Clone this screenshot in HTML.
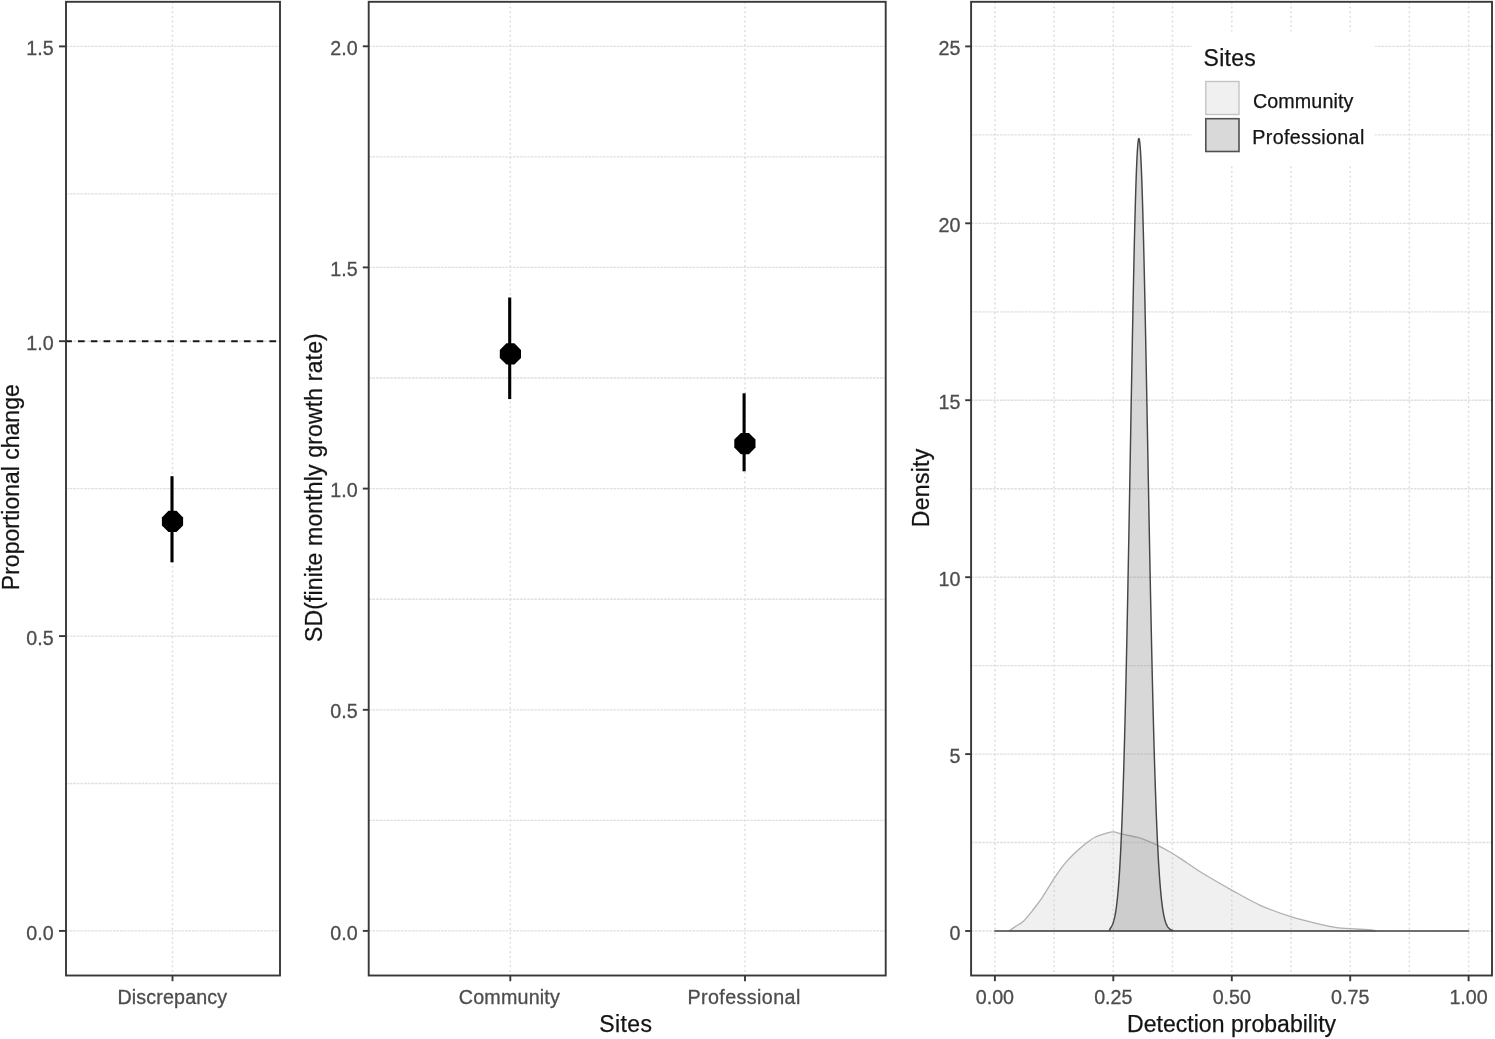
<!DOCTYPE html>
<html lang="en"><head><meta charset="utf-8"><title>Figure</title>
<style>
html,body{margin:0;padding:0;background:#fff;}
body{width:1495px;height:1039px;overflow:hidden;}
svg{display:block;font-family:"Liberation Sans",sans-serif;}
.gh{stroke:#e0e0e0;stroke-width:1.35;stroke-dasharray:2.7 0.9;}
.gv{stroke:#dedede;stroke-width:1.5;stroke-dasharray:2 2.7;}
.ax text{fill:#4d4d4d;stroke:#4d4d4d;stroke-width:0.3;}
.tt text{fill:#141414;stroke:#141414;stroke-width:0.25;}
</style></head>
<body>
<svg width="1495" height="1039" viewBox="0 0 1495 1039">
<rect width="1495" height="1039" fill="#fff"/>
<g fill="none">
<line class="gh" x1="66.0" x2="280.0" y1="930.9" y2="930.9"/>
<line class="gh" x1="66.0" x2="280.0" y1="783.5" y2="783.5"/>
<line class="gh" x1="66.0" x2="280.0" y1="636.1" y2="636.1"/>
<line class="gh" x1="66.0" x2="280.0" y1="488.6" y2="488.6"/>
<line class="gh" x1="66.0" x2="280.0" y1="341.2" y2="341.2"/>
<line class="gh" x1="66.0" x2="280.0" y1="193.8" y2="193.8"/>
<line class="gh" x1="66.0" x2="280.0" y1="46.4" y2="46.4"/>
<line class="gv" x1="172.5" x2="172.5" y1="1.8" y2="975.5"/>
<line class="gh" x1="368.7" x2="885.7" y1="930.9" y2="930.9"/>
<line class="gh" x1="368.7" x2="885.7" y1="820.3" y2="820.3"/>
<line class="gh" x1="368.7" x2="885.7" y1="709.8" y2="709.8"/>
<line class="gh" x1="368.7" x2="885.7" y1="599.2" y2="599.2"/>
<line class="gh" x1="368.7" x2="885.7" y1="488.6" y2="488.6"/>
<line class="gh" x1="368.7" x2="885.7" y1="378.0" y2="378.0"/>
<line class="gh" x1="368.7" x2="885.7" y1="267.4" y2="267.4"/>
<line class="gh" x1="368.7" x2="885.7" y1="156.9" y2="156.9"/>
<line class="gh" x1="368.7" x2="885.7" y1="46.3" y2="46.3"/>
<line class="gv" x1="510.3" x2="510.3" y1="1.8" y2="975.5"/>
<line class="gv" x1="745.0" x2="745.0" y1="1.8" y2="975.5"/>
<line class="gh" x1="971.1" x2="1492.0" y1="931.0" y2="931.0"/>
<line class="gh" x1="971.1" x2="1492.0" y1="842.5" y2="842.5"/>
<line class="gh" x1="971.1" x2="1492.0" y1="754.1" y2="754.1"/>
<line class="gh" x1="971.1" x2="1492.0" y1="665.6" y2="665.6"/>
<line class="gh" x1="971.1" x2="1492.0" y1="577.2" y2="577.2"/>
<line class="gh" x1="971.1" x2="1492.0" y1="488.7" y2="488.7"/>
<line class="gh" x1="971.1" x2="1492.0" y1="400.2" y2="400.2"/>
<line class="gh" x1="971.1" x2="1492.0" y1="311.8" y2="311.8"/>
<line class="gh" x1="971.1" x2="1492.0" y1="223.3" y2="223.3"/>
<line class="gh" x1="971.1" x2="1492.0" y1="134.9" y2="134.9"/>
<line class="gh" x1="971.1" x2="1492.0" y1="46.4" y2="46.4"/>
<line class="gv" x1="994.9" x2="994.9" y1="1.8" y2="975.5"/>
<line class="gv" x1="1054.1" x2="1054.1" y1="1.8" y2="975.5"/>
<line class="gv" x1="1113.3" x2="1113.3" y1="1.8" y2="975.5"/>
<line class="gv" x1="1172.5" x2="1172.5" y1="1.8" y2="975.5"/>
<line class="gv" x1="1231.8" x2="1231.8" y1="1.8" y2="975.5"/>
<line class="gv" x1="1291.0" x2="1291.0" y1="1.8" y2="975.5"/>
<line class="gv" x1="1350.2" x2="1350.2" y1="1.8" y2="975.5"/>
<line class="gv" x1="1409.4" x2="1409.4" y1="1.8" y2="975.5"/>
<line class="gv" x1="1468.6" x2="1468.6" y1="1.8" y2="975.5"/>
</g>
<line x1="65.3" x2="280.0" y1="341.3" y2="341.3" stroke="#1a1a1a" stroke-width="2.1" stroke-dasharray="6.6 6.16"/>
<line x1="172.0" x2="172.0" y1="476.2" y2="562.3" stroke="#000" stroke-width="3.1"/>
<polygon fill="#000" points="168.5,510.8 176.5,510.8 183.1,517.4 183.1,525.4 176.5,532.0 168.5,532.0 161.9,525.4 161.9,517.4"/>
<line x1="509.7" x2="509.7" y1="297.5" y2="399.1" stroke="#000" stroke-width="3.1"/>
<polygon fill="#000" points="506.4,343.3 514.4,343.3 521.0,349.9 521.0,357.9 514.4,364.5 506.4,364.5 499.8,357.9 499.8,349.9"/>
<line x1="744.1" x2="744.1" y1="393.3" y2="471.3" stroke="#000" stroke-width="3.1"/>
<polygon fill="#000" points="740.9,433.0 748.9,433.0 755.5,439.6 755.5,447.6 748.9,454.2 740.9,454.2 734.3,447.6 734.3,439.6"/>
<path d="M1009.0,930.9 C1010.0,930.2 1012.8,928.2 1015.3,926.6 C1017.8,925.0 1020.9,923.6 1023.7,921.0 C1026.5,918.4 1029.0,915.0 1032.1,911.1 C1035.1,907.2 1038.4,903.2 1042.0,897.8 C1045.6,892.4 1050.2,884.4 1053.9,878.8 C1057.6,873.2 1061.0,868.3 1064.4,864.1 C1067.8,859.9 1070.8,856.9 1074.3,853.5 C1077.8,850.1 1082.0,846.5 1085.5,843.7 C1089.0,841.0 1092.1,838.7 1095.4,837.0 C1098.7,835.3 1102.2,834.5 1105.2,833.6 C1108.2,832.7 1110.8,831.7 1113.6,831.8 C1116.4,831.9 1118.0,833.3 1122.0,834.2 C1126.0,835.1 1133.5,836.4 1137.5,837.4 C1141.5,838.4 1142.6,838.9 1145.9,840.2 C1149.2,841.5 1152.8,842.9 1157.2,845.1 C1161.7,847.3 1167.7,850.6 1172.6,853.5 C1177.5,856.4 1181.6,859.4 1186.7,862.7 C1191.8,866.0 1195.3,868.9 1203.0,873.5 C1210.7,878.1 1223.0,885.3 1232.6,890.6 C1242.1,895.9 1250.5,900.9 1260.3,905.3 C1270.1,909.7 1281.6,913.7 1291.6,916.9 C1301.6,920.1 1312.7,922.5 1320.5,924.3 C1328.3,926.1 1333.5,927.2 1338.5,927.9 C1343.5,928.6 1344.9,928.3 1350.6,928.7 C1356.3,929.1 1368.5,929.7 1372.7,930.1 C1376.9,930.5 1375.5,930.8 1376.0,930.9 Z" fill="#cccccc" fill-opacity="0.3" stroke="#b0b0b0" stroke-width="1.3" stroke-linejoin="round"/>
<path d="M994.9,931 L1109.2,931 L1110.4,928.1 L1110.9,927.5 L1111.4,926.7 L1111.9,925.8 L1112.4,924.8 L1112.9,923.6 L1113.4,922.1 L1113.9,920.4 L1114.4,918.4 L1114.9,916.2 L1115.4,913.5 L1115.9,910.5 L1116.4,907.0 L1116.9,903.0 L1117.4,898.4 L1117.9,893.3 L1118.4,887.4 L1118.9,880.9 L1119.4,873.6 L1119.9,865.4 L1120.4,856.3 L1120.9,846.3 L1121.4,835.2 L1121.9,823.1 L1122.4,809.9 L1122.9,795.5 L1123.4,779.9 L1123.9,763.1 L1124.4,745.1 L1124.9,725.8 L1125.4,705.4 L1125.9,683.8 L1126.4,661.0 L1126.9,637.2 L1127.4,612.4 L1127.9,586.6 L1128.4,560.1 L1128.9,532.9 L1129.4,505.2 L1129.9,477.1 L1130.4,448.8 L1130.9,420.6 L1131.4,392.6 L1131.9,365.0 L1132.4,338.0 L1132.9,311.9 L1133.4,286.9 L1133.9,263.2 L1134.4,241.0 L1134.9,220.5 L1135.4,201.9 L1135.9,185.5 L1136.4,171.3 L1136.9,159.5 L1137.4,150.2 L1137.9,143.6 L1138.4,139.6 L1138.9,138.4 L1139.4,139.8 L1139.9,143.6 L1140.4,149.9 L1140.9,158.7 L1141.4,169.7 L1141.9,182.9 L1142.4,198.2 L1142.9,215.4 L1143.4,234.5 L1143.9,255.2 L1144.4,277.3 L1144.9,300.7 L1145.4,325.2 L1145.9,350.6 L1146.4,376.6 L1146.9,403.2 L1147.4,430.0 L1147.9,457.0 L1148.4,484.0 L1148.9,510.7 L1149.4,537.1 L1149.9,563.0 L1150.4,588.3 L1150.9,612.8 L1151.4,636.6 L1151.9,659.4 L1152.4,681.2 L1152.9,702.0 L1153.4,721.7 L1153.9,740.4 L1154.4,757.9 L1154.9,774.3 L1155.4,789.6 L1155.9,803.8 L1156.4,816.9 L1156.9,829.1 L1157.4,840.2 L1157.9,850.3 L1158.4,859.6 L1158.9,867.9 L1159.4,875.5 L1159.9,882.3 L1160.4,888.5 L1160.9,893.9 L1161.4,898.8 L1161.9,903.1 L1162.4,906.9 L1162.9,910.3 L1163.4,913.2 L1163.9,915.8 L1164.4,918.0 L1164.9,920.0 L1165.4,921.7 L1165.9,923.1 L1166.4,924.4 L1166.9,925.4 L1167.4,926.3 L1167.9,927.1 L1168.4,927.8 L1168.9,928.3 L1169.4,928.8 L1169.9,929.2 L1170.4,929.5 L1170.9,929.8 L1171.4,930.0 L1171.9,930.2 L1172.4,930.3 L1173.9,931 L1468.6,931 Z" fill="#7f7f7f" fill-opacity="0.3" stroke="#464646" stroke-width="1.45" stroke-linejoin="round"/>
<rect x="1191.8" y="31.6" width="183" height="132.2" fill="#fff"/>
<rect x="1205.8" y="81.5" width="33.2" height="33" fill="#f0f0f0" stroke="#c4c4c4" stroke-width="1.4"/>
<rect x="1205.8" y="118.7" width="33.2" height="32.8" fill="#d9d9d9" stroke="#505050" stroke-width="1.6"/>
<rect x="66.0" y="1.8" width="214.0" height="973.7" fill="none" stroke="#383838" stroke-width="1.9"/>
<rect x="368.7" y="1.8" width="517.0" height="973.7" fill="none" stroke="#383838" stroke-width="1.9"/>
<rect x="971.1" y="1.8" width="520.9" height="973.7" fill="none" stroke="#383838" stroke-width="1.9"/>
<g stroke="#383838" stroke-width="1.9">
<line x1="59.0" x2="66.0" y1="930.9" y2="930.9"/>
<line x1="59.0" x2="66.0" y1="636.1" y2="636.1"/>
<line x1="59.0" x2="66.0" y1="341.2" y2="341.2"/>
<line x1="59.0" x2="66.0" y1="46.4" y2="46.4"/>
<line x1="362.8" x2="368.7" y1="930.9" y2="930.9"/>
<line x1="362.8" x2="368.7" y1="709.8" y2="709.8"/>
<line x1="362.8" x2="368.7" y1="488.6" y2="488.6"/>
<line x1="362.8" x2="368.7" y1="267.4" y2="267.4"/>
<line x1="362.8" x2="368.7" y1="46.3" y2="46.3"/>
<line x1="965.2" x2="971.1" y1="931.0" y2="931.0"/>
<line x1="965.2" x2="971.1" y1="754.1" y2="754.1"/>
<line x1="965.2" x2="971.1" y1="577.2" y2="577.2"/>
<line x1="965.2" x2="971.1" y1="400.2" y2="400.2"/>
<line x1="965.2" x2="971.1" y1="223.3" y2="223.3"/>
<line x1="965.2" x2="971.1" y1="46.4" y2="46.4"/>
<line x1="172.5" x2="172.5" y1="975.5" y2="981.2"/>
<line x1="510.3" x2="510.3" y1="975.5" y2="981.2"/>
<line x1="745.0" x2="745.0" y1="975.5" y2="981.2"/>
<line x1="994.9" x2="994.9" y1="975.5" y2="981.2"/>
<line x1="1113.3" x2="1113.3" y1="975.5" y2="981.2"/>
<line x1="1231.8" x2="1231.8" y1="975.5" y2="981.2"/>
<line x1="1350.2" x2="1350.2" y1="975.5" y2="981.2"/>
<line x1="1468.6" x2="1468.6" y1="975.5" y2="981.2"/>
</g>
<g class="ax" font-size="19.7">
<text x="53.7" y="939.5" text-anchor="end">0.0</text>
<text x="53.7" y="644.7" text-anchor="end">0.5</text>
<text x="53.7" y="349.8" text-anchor="end">1.0</text>
<text x="53.7" y="55.0" text-anchor="end">1.5</text>
<text x="357.7" y="939.5" text-anchor="end">0.0</text>
<text x="357.7" y="718.4" text-anchor="end">0.5</text>
<text x="357.7" y="497.2" text-anchor="end">1.0</text>
<text x="357.7" y="276.0" text-anchor="end">1.5</text>
<text x="357.7" y="54.9" text-anchor="end">2.0</text>
<text x="960.5" y="939.6" text-anchor="end">0</text>
<text x="960.5" y="762.7" text-anchor="end">5</text>
<text x="960.5" y="585.8" text-anchor="end">10</text>
<text x="960.5" y="408.8" text-anchor="end">15</text>
<text x="960.5" y="231.9" text-anchor="end">20</text>
<text x="960.5" y="55.0" text-anchor="end">25</text>
<text x="172.4" y="1003.5" text-anchor="middle" letter-spacing="0.14">Discrepancy</text>
<text x="509.4" y="1003.5" text-anchor="middle" letter-spacing="0.19">Community</text>
<text x="744.1" y="1003.5" text-anchor="middle" letter-spacing="0.4">Professional</text>
<text x="994.9" y="1003.5" text-anchor="middle">0.00</text>
<text x="1113.3" y="1003.5" text-anchor="middle">0.25</text>
<text x="1231.8" y="1003.5" text-anchor="middle">0.50</text>
<text x="1350.2" y="1003.5" text-anchor="middle">0.75</text>
<text x="1468.6" y="1003.5" text-anchor="middle">1.00</text>
</g>
<g class="tt" font-size="19.7">
<text x="1252.9" y="107.7" letter-spacing="0.12">Community</text>
<text x="1252.3" y="143.9" letter-spacing="0.33">Professional</text>
</g>
<g class="tt" font-size="23.0">
<text x="625.8" y="1032.4" text-anchor="middle" letter-spacing="0.35">Sites</text>
<text x="1231.6" y="1032.2" text-anchor="middle" letter-spacing="0.03">Detection probability</text>
<text x="1203.5" y="66.2" letter-spacing="0.3">Sites</text>
<text transform="translate(18.5,487.2) rotate(-90)" text-anchor="middle">Proportional change</text>
<text transform="translate(322.3,487.6) rotate(-90)" text-anchor="middle" letter-spacing="0.16">SD(finite monthly growth rate)</text>
<text transform="translate(929.2,487.8) rotate(-90)" text-anchor="middle" letter-spacing="0.28">Density</text>
</g>
</svg>
</body></html>
